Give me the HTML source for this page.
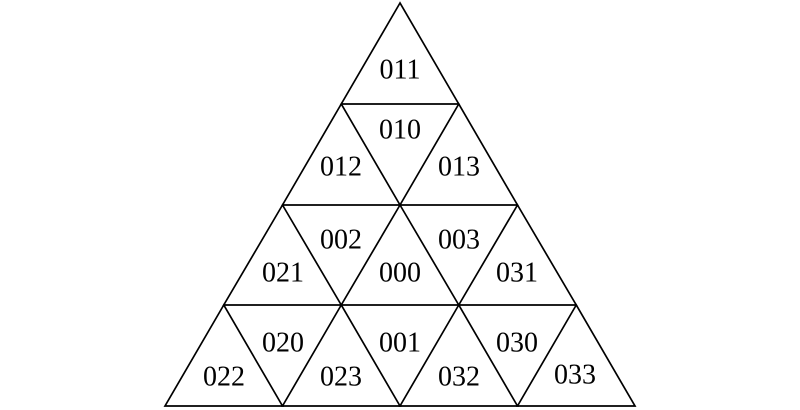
<!DOCTYPE html>
<html><head><meta charset="utf-8"><style>
html,body{margin:0;padding:0;background:#fff;}
svg{display:block}
text{font-family:"Liberation Serif",serif;font-size:28px;fill:#000;text-anchor:middle;dominant-baseline:central}
</style></head><body>
<svg width="800" height="410" viewBox="0 0 800 410" xmlns="http://www.w3.org/2000/svg">
<g fill="none" stroke="#000" stroke-width="1.7" stroke-linejoin="miter">
<polygon points="400,3 341.25,104 458.75,104"/>
<polygon points="341.25,104 282.5,205 400,205"/>
<polygon points="458.75,104 400,205 517.5,205"/>
<polygon points="282.5,205 223.75,305 341.25,305"/>
<polygon points="400,205 341.25,305 458.75,305"/>
<polygon points="517.5,205 458.75,305 576.25,305"/>
<polygon points="223.75,305 165,406 282.5,406"/>
<polygon points="341.25,305 282.5,406 400,406"/>
<polygon points="458.75,305 400,406 517.5,406"/>
<polygon points="576.25,305 517.5,406 635,406"/>
</g>
<text x="400" y="70">011</text>
<text x="400" y="130">010</text>
<text x="341" y="167">012</text>
<text x="459" y="167">013</text>
<text x="341" y="240">002</text>
<text x="459" y="240">003</text>
<text x="283" y="273">021</text>
<text x="400" y="273">000</text>
<text x="517" y="273">031</text>
<text x="283" y="343">020</text>
<text x="400" y="343">001</text>
<text x="517" y="343">030</text>
<text x="224" y="377">022</text>
<text x="341" y="377">023</text>
<text x="459" y="377">032</text>
<text x="575" y="375">033</text>
</svg>
</body></html>
